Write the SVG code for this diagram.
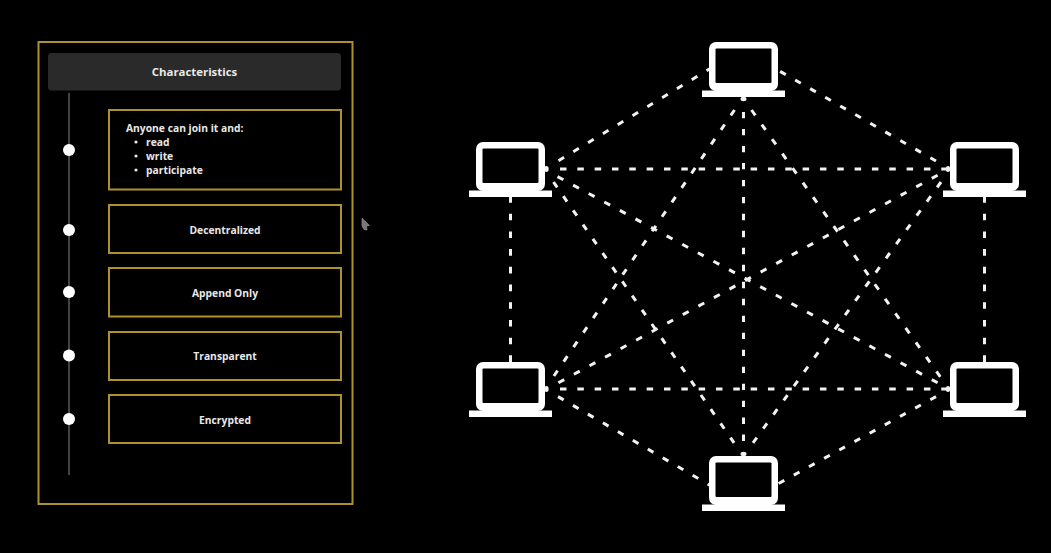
<svg xmlns="http://www.w3.org/2000/svg" width="1051" height="553" viewBox="0 0 1051 553">
<style>
.gold{fill:#000;stroke:#ab922b;stroke-width:2}
.t{font-family:"Open Sans","Noto Sans",sans-serif;font-weight:700;fill:#e8e8e8;font-size:10.300px}
.m{text-anchor:middle}
.dot{fill:#fff}
.e{stroke:#f2f2f2;stroke-width:3;stroke-dasharray:6.5 10.83;fill:none}
.hub{fill:#f2f2f2}
.base{fill:#fff}
</style>
<defs>
<g id="laptop">
<rect x="-34.500" y="0" width="69" height="49" rx="7" class="base"/>
<rect x="-28" y="6.500" width="56" height="34.500" rx="1" fill="#000"/>
<rect x="-41.500" y="48.500" width="83" height="6.500" class="base"/>
</g>
</defs>
<rect width="1051" height="553" fill="#000"/>
<g id="panel">
<rect x="38.500" y="42" width="314" height="462" fill="none" stroke="#ab922b" stroke-width="2"/>
</g>
<g id="header">
<rect x="48" y="53" width="293" height="37.500" rx="3.500" fill="#2a2a2a"/>
<text class="t m" x="194.500" y="76" style="font-size:11.400px">Characteristics</text>
</g>
<g id="timeline">
<line x1="69" y1="93" x2="69" y2="475" stroke="#5a5a5a" stroke-width="1.500"/>
<circle class="dot" cx="69" cy="150" r="6"/>
<circle class="dot" cx="69" cy="230" r="6"/>
<circle class="dot" cx="69" cy="292" r="6"/>
<circle class="dot" cx="69" cy="355.500" r="6"/>
<circle class="dot" cx="69" cy="419" r="6"/>
</g>
<g id="box-anyone">
<rect class="gold" x="109" y="110" width="232" height="79.500"/>
<text class="t" x="126" y="132">Anyone can join it and:</text>
<circle cx="136" cy="142" r="1.600" fill="#e8e8e8"/>
<text class="t" x="146" y="146">read</text>
<circle cx="136" cy="156" r="1.600" fill="#e8e8e8"/>
<text class="t" x="146" y="160">write</text>
<circle cx="136" cy="170" r="1.600" fill="#e8e8e8"/>
<text class="t" x="146" y="174">participate</text>
</g>
<g id="box-decentralized">
<rect class="gold" x="109" y="205" width="232" height="48"/>
<text class="t m" x="225" y="234">Decentralized</text>
</g>
<g id="box-append">
<rect class="gold" x="109" y="268" width="232" height="48.500"/>
<text class="t m" x="225" y="297">Append Only</text>
</g>
<g id="box-transparent">
<rect class="gold" x="109" y="332" width="232" height="48"/>
<text class="t m" x="225" y="360">Transparent</text>
</g>
<g id="box-encrypted">
<rect class="gold" x="109" y="395" width="232" height="48"/>
<text class="t m" x="225" y="424">Encrypted</text>
</g>
<polygon id="cursor" points="362,218 369.500,225.500 366.500,226 367,230 364,229.500 362,226" fill="#777" stroke="#999" stroke-width="0.600"/>
<g id="connectors">
<line class="e" x1="558.500" y1="160.700" x2="711" y2="68"/>
<line class="e" x1="936" y1="161" x2="776" y2="69"/>
<line class="e" x1="743.500" y1="112" x2="743.500" y2="441" pathLength="335.800"/>
<line class="e" x1="734.500" y1="110" x2="553.900" y2="376" pathLength="318.400"/>
<line class="e" x1="751.500" y1="110" x2="940.300" y2="376.800" pathLength="318.400"/>
<line class="e" x1="560" y1="169" x2="948" y2="169"/>
<line class="e" x1="510.500" y1="196" x2="510.500" y2="362" pathLength="162.500"/>
<line class="e" x1="984.500" y1="196" x2="984.500" y2="362" pathLength="162.500"/>
<line class="e" x1="557.500" y1="176.600" x2="937.600" y2="382.800" pathLength="422.400"/>
<line class="e" x1="553.500" y1="182" x2="734.100" y2="442.900" pathLength="318.400"/>
<line class="e" x1="937.600" y1="175.200" x2="558.400" y2="382.800" pathLength="422.400"/>
<line class="e" x1="941" y1="182" x2="753" y2="442.900" pathLength="318.400"/>
<line class="e" x1="560" y1="389" x2="948" y2="389"/>
<line class="e" x1="558" y1="396.600" x2="711" y2="486"/>
<line class="e" x1="936" y1="396.600" x2="776" y2="485"/>
<ellipse class="hub" cx="743.500" cy="99" rx="3" ry="2.200"/>
<ellipse class="hub" cx="743.500" cy="454" rx="3" ry="2.200"/>
<ellipse class="hub" cx="546.500" cy="169" rx="2.200" ry="3"/>
<ellipse class="hub" cx="546.500" cy="389" rx="2.200" ry="3"/>
<ellipse class="hub" cx="948" cy="169" rx="2.200" ry="3"/>
<ellipse class="hub" cx="948" cy="389" rx="2.200" ry="3"/>
</g>
<use id="pc-top" href="#laptop" x="743.500" y="42"/>
<use id="pc-left" href="#laptop" x="510.500" y="142"/>
<use id="pc-right" href="#laptop" x="984.500" y="142"/>
<use id="pc-bottom-left" href="#laptop" x="510.500" y="362"/>
<use id="pc-bottom-right" href="#laptop" x="984.500" y="362"/>
<use id="pc-bottom" href="#laptop" x="743.500" y="456"/>
</svg>
